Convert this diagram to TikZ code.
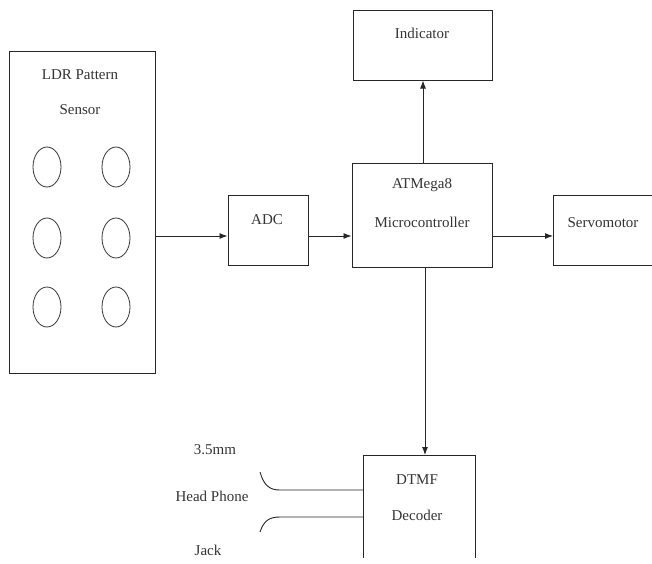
\documentclass[tikz,border=0pt]{standalone}
\usepackage{fontspec}
\setmainfont{Liberation Serif}
\usetikzlibrary{arrows.meta,shapes.geometric}
\begin{document}
\begin{tikzpicture}[x=1pt,y=-1pt,
  blk/.style={draw=black!85,line width=1pt,rectangle,inner sep=0pt},
  lbl/.style={font=\fontsize{15}{17}\selectfont,text=black!80,inner sep=0pt,anchor=center},
  conn/.style={draw=black!85,line width=0.9pt,-{Latex[length=8pt,width=6pt]}},
  wire/.style={draw=black!85,line width=0.9pt},
  ldr/.style={draw=black!80,line width=0.8pt,ellipse,minimum width=28pt,minimum height=40pt,inner sep=0pt}]
\useasboundingbox (0,0) rectangle (652,563);
% boxes
\node[blk,minimum width=146pt,minimum height=322pt] (ldrbox) at (82,212) {};
\node[blk,minimum width=80pt,minimum height=70pt] (adc) at (268,230) {};
\node[blk,minimum width=140pt,minimum height=104pt] (mcu) at (422,215) {};
\node[blk,minimum width=139pt,minimum height=70pt] (ind) at (422.5,45) {};
\node[blk,minimum width=120pt,minimum height=70pt,anchor=west] (servo) at (553,230) {};
% DTMF open box
\coordinate (dtl) at (363,455);
\coordinate (dtr) at (475,455);
\coordinate (dbl) at (363,558);
\coordinate (dbr) at (475,558);
\draw[wire,line width=1pt] (dbl) -- (dtl) -- (dtr) -- (dbr);
\coordinate (dtop) at (425,455);
% labels
\node[lbl] (t1) at (80,75) {LDR Pattern};
\node[lbl] (t2) at (80,110) {Sensor};
\node[lbl] (t3) at (267,220) {ADC};
\node[lbl] (t4) at (422,185) {ATMega8};
\node[lbl] (t5) at (422,222) {Microcontroller};
\node[lbl] (t6) at (422,33) {Indicator};
\node[lbl] (t7) at (603,223) {Servomotor};
\node[lbl] (t8) at (417,480) {DTMF};
\node[lbl] (t9) at (417,515) {Decoder};
\node[lbl] (t10) at (215,450) {3.5mm};
\node[lbl] (t11) at (212,496) {Head Phone};
\node[lbl] (t12) at (208,550) {Jack};
% LDR circles
\foreach \i/\x/\y in {1/47/167,2/116/167,3/47/238,4/116/238,5/47/307,6/116/307}
  \node[ldr] (c\i) at (\x,\y) {};
% connectors
\draw[conn] (ldrbox.east |- 0,236) -- (adc.west |- 0,236);
\draw[conn] (adc.east |- 0,236) -- (mcu.west |- 0,236);
\draw[conn] (mcu.east |- 0,236) -- (servo.west |- 0,236);
\draw[conn] (mcu.north -| 423,0) -- (ind.south -| 423,0);
\draw[conn] (mcu.south -| 425,0) -- (dtop);
% headphone wires
\coordinate (w1s) at (260,472);
\coordinate (w1e) at (363,490);
\coordinate (w2s) at (260,532);
\coordinate (w2e) at (363,517);
\draw[wire] (w1s) .. controls (264,486) and (270,490) .. (280,490) -- (w1e);
\draw[wire] (w2s) .. controls (264,520) and (270,517) .. (280,517) -- (w2e);
\end{tikzpicture}
\end{document}
